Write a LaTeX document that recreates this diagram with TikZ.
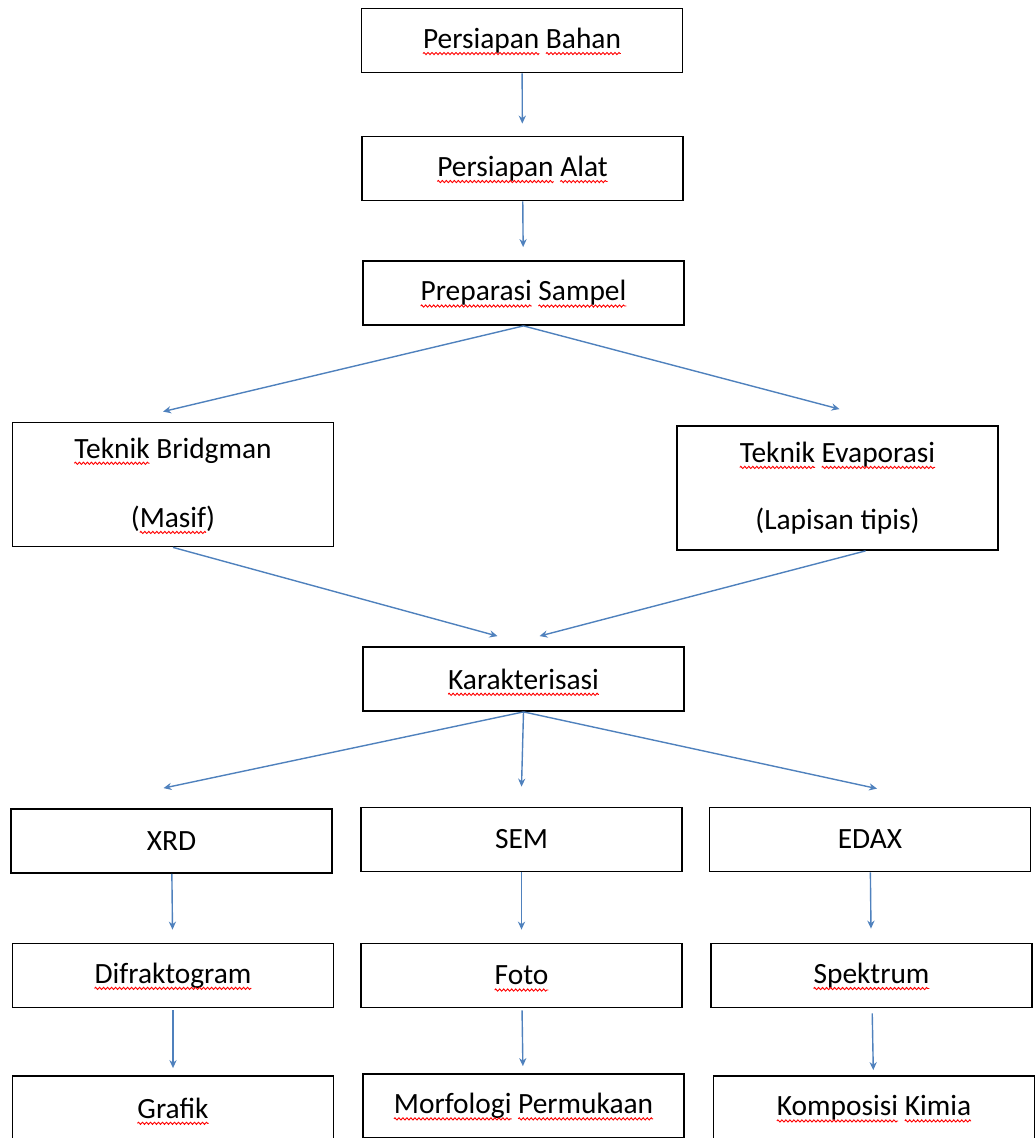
\documentclass[tikz,border=0pt]{standalone}
\usepackage{fontspec}
\setmainfont{Carlito}
\usetikzlibrary{arrows.meta,decorations.pathmorphing}
\definecolor{arrowblue}{RGB}{79,129,189}
\newlength\wavewd
\newcommand\redwave[1]{\settowidth\wavewd{#1}\rlap{#1}\tikz[baseline=0pt]{\useasboundingbox (0pt,0pt) rectangle (\wavewd,0pt);
  \draw[red, line width=0.45pt, decorate, decoration={zigzag, segment length=2pt, amplitude=0.55pt}] (0pt,-2.6pt) -- (\wavewd,-2.6pt);}}

\begin{document}
\begin{tikzpicture}[
x=0.5pt, y=-0.5pt,
box/.style={rectangle, draw=black, line width=0.9pt, minimum width=160.5pt, minimum height=32pt, inner sep=0pt, font=\fontsize{14.7}{17.6}\selectfont, align=center},
tallbox/.style={box, minimum height=62pt},
arr/.style={draw=arrowblue, line width=0.7pt, -{Stealth[length=4pt,width=3.6pt]}},
]
\useasboundingbox (0,0) rectangle (1036,1138);
\clip (0,0) rectangle (1036,1138);
%Nodes
\node[box]      (bahan)    at (522,40.5)    {\redwave{Persiapan} \redwave{Bahan}};
\node[box]      (alat)     at (522.5,168.5) {\redwave{Persiapan} \redwave{Alat}};
\node[box]      (sampel)   at (523.5,293)   {\redwave{Preparasi} \redwave{Sampel}};
\node[tallbox]  (bridgman) at (173,484.5)   {\redwave{Teknik} Bridgman\\[17pt](\redwave{Masif})};
\node[tallbox]  (evap)     at (837.5,488)   {\redwave{Teknik} \redwave{Evaporasi}\\[16pt](Lapisan tipis)};
\node[box]      (karak)    at (523.5,679)   {\redwave{Karakterisasi}};
\node[box]      (xrd)      at (171.5,841)   {XRD};
\node[box]      (sem)      at (521.5,839.5) {SEM};
\node[box]      (edax)     at (870,839.5)   {EDAX};
\node[box]      (difrak)   at (173,975.5)   {\redwave{Difraktogram}};
\node[box]      (foto)     at (521.5,975.5) {\redwave{Foto}};
\node[box]      (spek)     at (871.5,975.5) {\redwave{Spektrum}};
\node[box]      (grafik)   at (173,1108)    {\redwave{Grafik}};
\node[box]      (morf)     at (523.5,1106)  {\redwave{Morfologi} \redwave{Permukaan}};
\node[box]      (komp)     at (874,1108)    {\redwave{Komposisi} \redwave{Kimia}};

%Lines
\draw[arr, shorten >=6pt] (bahan) -- (alat);
\draw[arr, shorten >=6.5pt] (alat) -- (sampel);
\draw[arr] (sampel.south) -> ([xshift=-5pt,yshift=5pt]bridgman.north);
\draw[arr] (sampel.south) -> ([xshift=1pt,yshift=8pt]evap.north);
\draw[arr] (bridgman.south) -> ([xshift=-13pt,yshift=5pt]karak.north);
\draw[arr] ([xshift=14pt]evap.south) -> ([xshift=8pt,yshift=5pt]karak.north);
\draw[arr] (karak.south) -> ([xshift=-4pt,yshift=10pt]xrd.north);
\draw[arr] (karak.south) -> ([yshift=10pt]sem.north);
\draw[arr] (karak.south) -> ([xshift=3.5pt,yshift=9pt]edax.north);
\draw[arr, shorten >=6.5pt] (xrd) -- (difrak);
\draw[arr, shorten >=6.5pt] (sem) -- (foto);
\draw[arr, shorten >=7pt] (edax) -- (spek);
\draw[arr, shorten >=3.5pt, shorten <=1pt] (difrak) -- (grafik);
\draw[arr, shorten >=3.5pt, shorten <=1pt] (foto) -- (morf);
\draw[arr, shorten >=2.5pt, shorten <=2.5pt] (spek) -- (komp);

\end{tikzpicture}
\end{document}
